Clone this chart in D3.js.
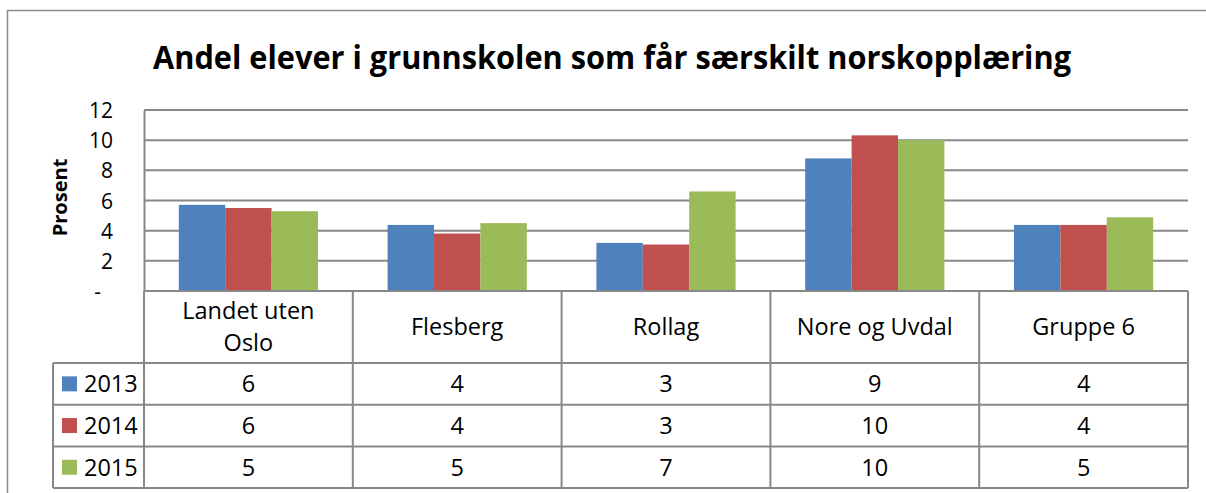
<!DOCTYPE html>
<html>
<head>
<meta charset="utf-8">
<script src="https://d3js.org/d3.v7.min.js"></script>
<style>
  html, body { margin: 0; padding: 0; background: #fff; overflow: hidden; }
  svg { display: block; font-family: "Open Sans", "DejaVu Sans", sans-serif; }
</style>
</head>
<body>
<svg id="chart" width="1206" height="493"></svg>
<script>
// ── Daten ─────────────────────────────────────────────
const categories = ['Landet uten Oslo', 'Flesberg', 'Rollag', 'Nore og Uvdal', 'Gruppe 6'];
const series = ['2013', '2014', '2015'];
const values2013 = [5.71, 4.38, 3.19, 8.79, 4.38];
const values2014 = [5.5, 3.81, 3.08, 10.32, 4.38];
const values2015 = [5.29, 4.5, 6.6, 10.0, 4.89];
const yTicks = [0, 2, 4, 6, 8, 10, 12];

const COLORS = ['#4F81BD', '#C0504D', '#9BBB59'];
const GRID = '#888888';
const valuesBySeries = [values2013, values2014, values2015];

// ── Layout ────────────────────────────────────────────
const plot = { left: 144, right: 1188, top: 110, bottom: 291 };
const rowH = [72, 41.7, 41.7, 41.7];   // Kopfzeile + 3 Datenzeilen
const legendLeft = 53;
const TABLE_FONT = 23.5;

const svg = d3.select('#chart');

// Rahmen
svg.append('rect')
  .attr('x', 7.5).attr('y', 10.5)
  .attr('width', 1400).attr('height', 600)
  .attr('fill', 'none').attr('stroke', '#8c8c8c').attr('stroke-width', 1.5);

// Titel
svg.append('text')
  .attr('x', 612).attr('y', 69)
  .attr('text-anchor', 'middle')
  .attr('font-size', 32).attr('font-weight', 700)
  .attr('textLength', 918).attr('lengthAdjust', 'spacingAndGlyphs')
  .attr('fill', '#000')
  .text('Andel elever i grunnskolen som får særskilt norskopplæring');

// Skalen
const x0 = d3.scaleBand().domain(categories).range([plot.left, plot.right]).padding(0);
const x1 = d3.scaleBand().domain(series).range([0, x0.bandwidth()]).paddingInner(0).paddingOuter(0.75);
const y = d3.scaleLinear().domain([0, 12]).range([plot.bottom, plot.top]);

// Gitterlinien
svg.append('g')
  .selectAll('line')
  .data(yTicks.filter(d => d > 0))
  .join('line')
    .attr('x1', plot.left).attr('x2', plot.right)
    .attr('y1', d => y(d)).attr('y2', d => y(d))
    .attr('stroke', GRID).attr('stroke-width', 2);

// Y-Achse
const yAxis = svg.append('g')
  .attr('transform', `translate(${plot.left},0)`)
  .call(d3.axisLeft(y).tickValues(yTicks).tickSize(0).tickPadding(31)
    .tickFormat(d => d === 0 ? '-' : d));
yAxis.select('.domain').attr('stroke', GRID).attr('stroke-width', 2);
yAxis.selectAll('text')
  .attr('font-size', 21).attr('fill', '#000')
  .attr('font-family', '"Open Sans", sans-serif')
  .attr('dy', '0.36em');
yAxis.selectAll('.tick').filter(d => d === 0).select('text').attr('dx', -12);

svg.append('text')
  .attr('transform', `translate(67,${(plot.top + plot.bottom) / 2 - 3}) rotate(-90)`)
  .attr('text-anchor', 'middle')
  .attr('font-size', 20).attr('font-weight', 700)
  .text('Prosent');

// Balken
const groups = svg.append('g').selectAll('g')
  .data(categories).join('g')
    .attr('transform', d => `translate(${x0(d)},0)`);

groups.selectAll('rect')
  .data((c, ci) => series.map((s, si) => ({ s, si, v: valuesBySeries[si][ci] })))
  .join('rect')
    .attr('x', d => x1(d.s))
    .attr('width', x1.bandwidth())
    .attr('y', d => y(d.v))
    .attr('height', d => y(0) - y(d.v))
    .attr('fill', d => COLORS[d.si]);

// ── Datentabelle ─────────────────────────────────────
const rowY = [plot.bottom];
rowH.forEach((h, i) => rowY.push(rowY[i] + h));
const table = svg.append('g')
  .attr('stroke', GRID).attr('stroke-width', 2).attr('fill', 'none');

// horizontale Linien
rowY.forEach((yy, i) => {
  table.append('line')
    .attr('x1', i === 0 ? plot.left : legendLeft).attr('x2', plot.right)
    .attr('y1', yy).attr('y2', yy);
});
// vertikale Linien
const vx = categories.map(c => x0(c)).concat([plot.right]);
vx.forEach(xx => {
  table.append('line').attr('x1', xx).attr('x2', xx)
    .attr('y1', plot.bottom).attr('y2', rowY[4]);
});
table.append('line').attr('x1', legendLeft).attr('x2', legendLeft)
  .attr('y1', rowY[1]).attr('y2', rowY[4]);

// Kategorienamen
const headerCenter = (rowY[0] + rowY[1]) / 2;
categories.forEach(c => {
  const cx = x0(c) + x0.bandwidth() / 2;
  const lines = c === 'Landet uten Oslo' ? ['Landet uten', 'Oslo'] : [c];
  const t = svg.append('text')
    .attr('text-anchor', 'middle')
    .attr('font-size', TABLE_FONT).attr('fill', '#000');
  lines.forEach((ln, i) => {
    t.append('tspan')
      .attr('x', cx)
      .attr('y', headerCenter + (i - (lines.length - 1) / 2) * 32)
      .attr('dy', '0.36em')
      .text(ln);
  });
});

// Datenzeilen
series.forEach((s, si) => {
  const cy = (rowY[si + 1] + rowY[si + 2]) / 2;
  svg.append('rect')
    .attr('x', 62).attr('y', cy - 7.5)
    .attr('width', 15).attr('height', 15)
    .attr('fill', COLORS[si]);
  svg.append('text')
    .attr('x', 84).attr('y', cy).attr('dy', '0.36em')
    .attr('font-size', TABLE_FONT).text(s);
  categories.forEach((c, ci) => {
    svg.append('text')
      .attr('x', x0(c) + x0.bandwidth() / 2).attr('y', cy).attr('dy', '0.36em')
      .attr('text-anchor', 'middle')
      .attr('font-size', TABLE_FONT)
      .text(Math.round(valuesBySeries[si][ci]));
  });
});
</script>
</body>
</html>
